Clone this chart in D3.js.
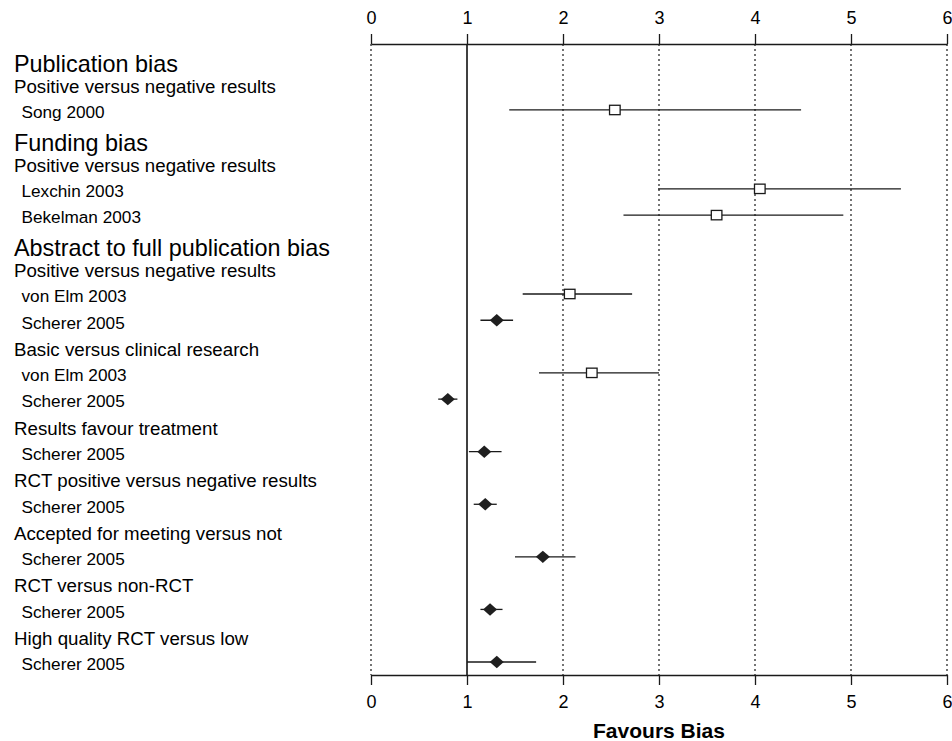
<!DOCTYPE html>
<html>
<head>
<meta charset="utf-8">
<script src="https://cdn.jsdelivr.net/npm/d3@7"></script>
<style>
  html, body { margin: 0; padding: 0; background: #fff; }
  svg { display: block; font-family: "Liberation Sans", Arial, Helvetica, sans-serif; }
</style>
</head>
<body>
<svg id="chart" width="952" height="741"></svg>
<script>
// ---- data ----
const rowLabels = [
  "Publication bias", "Positive versus negative results", "Song 2000",
  "Funding bias", "Positive versus negative results", "Lexchin 2003", "Bekelman 2003",
  "Abstract to full publication bias", "Positive versus negative results", "von Elm 2003", "Scherer 2005",
  "Basic versus clinical research", "von Elm 2003", "Scherer 2005",
  "Results favour treatment", "Scherer 2005",
  "RCT positive versus negative results", "Scherer 2005",
  "Accepted for meeting versus not", "Scherer 2005",
  "RCT versus non-RCT", "Scherer 2005",
  "High quality RCT versus low", "Scherer 2005"
];
const rowLevels = [0,1,2, 0,1,2,2, 0,1,2,2, 1,2,2, 1,2, 1,2, 1,2, 1,2, 1,2];
const estimates = [null,null,2.54, null,null,4.05,3.60, null,null,2.07,1.31, null,2.30,0.80, null,1.18, null,1.19, null,1.79, null,1.24, null,1.31];
const lowerCI   = [null,null,1.44, null,null,2.99,2.63, null,null,1.58,1.14, null,1.75,0.70, null,1.02, null,1.07, null,1.50, null,1.14, null,1.00];
const upperCI   = [null,null,4.48, null,null,5.52,4.92, null,null,2.72,1.48, null,3.00,0.90, null,1.36, null,1.31, null,2.13, null,1.37, null,1.72];
const markerTypes = [null,null,"square", null,null,"square","square", null,null,"square","diamond", null,"square","diamond", null,"diamond", null,"diamond", null,"diamond", null,"diamond", null,"diamond"];
const xTicks = [0, 1, 2, 3, 4, 5, 6];
const xTitle = "Favours Bias";
const refValue = 1;

// ---- layout ----
const svg = d3.select("#chart");
const axisTopY = 44, axisBottomY = 675;
const x = d3.scaleLinear().domain([0, 6]).range([371, 947]);
const y = d3.scalePoint().domain(d3.range(rowLabels.length)).range([57.4, 662]);
const ink = "#1a1a1a";

// gridlines (dotted)
svg.append("g").selectAll("line")
  .data(xTicks.filter(t => t !== refValue))
  .join("line")
  .attr("x1", d => x(d)).attr("x2", d => x(d))
  .attr("y1", axisTopY).attr("y2", axisBottomY)
  .attr("stroke", ink).attr("stroke-width", 1.2)
  .attr("stroke-dasharray", "2,3");

// reference line at 1
svg.append("line")
  .attr("x1", x(refValue)).attr("x2", x(refValue))
  .attr("y1", axisTopY).attr("y2", axisBottomY)
  .attr("stroke", "#000").attr("stroke-width", 1.5);

// axes
function styleAxis(g) {
  g.selectAll("path.domain").attr("stroke", ink).attr("stroke-width", 1.3);
  g.selectAll(".tick line").attr("stroke", ink).attr("stroke-width", 1.3);
  g.selectAll(".tick text").attr("fill", "#000")
    .style("font-size", "18px")
    .style("font-family", "'Liberation Sans', Arial, sans-serif");
}
svg.append("g").attr("transform", `translate(0,${axisTopY})`)
  .call(d3.axisTop(x).tickValues(xTicks).tickFormat(d3.format("d")).tickSize(10).tickSizeOuter(0).tickPadding(10))
  .call(styleAxis);
svg.append("g").attr("transform", `translate(0,${axisBottomY})`)
  .call(d3.axisBottom(x).tickValues(xTicks).tickFormat(d3.format("d")).tickSize(10).tickSizeOuter(0).tickPadding(10))
  .call(styleAxis);

svg.append("text")
  .attr("x", x(3)).attr("y", 738)
  .attr("text-anchor", "middle")
  .style("font-size", "21px").style("font-weight", "bold")
  .attr("fill", "#000")
  .text(xTitle);

// row labels
const labelStyle = [
  { size: 23.4, x: 14, dy: 14.3 },
  { size: 18.7, x: 14, dy: 9.2 },
  { size: 17.2, x: 21.5, dy: 8.3 }
];
svg.append("g").selectAll("text")
  .data(rowLabels.map((t, i) => ({ t, i, lv: rowLevels[i] })))
  .join("text")
  .attr("x", d => labelStyle[d.lv].x)
  .attr("y", d => y(d.i) + labelStyle[d.lv].dy)
  .style("font-size", d => labelStyle[d.lv].size + "px")
  .attr("fill", "#000")
  .text(d => d.t);

// study rows
const studies = d3.range(rowLabels.length)
  .filter(i => estimates[i] !== null)
  .map(i => ({ i, est: estimates[i], lo: lowerCI[i], hi: upperCI[i], m: markerTypes[i] }));

const g = svg.append("g");
g.selectAll("line.ci")
  .data(studies)
  .join("line")
  .attr("class", "ci")
  .attr("x1", d => x(d.lo)).attr("x2", d => x(d.hi))
  .attr("y1", d => y(d.i)).attr("y2", d => y(d.i))
  .attr("stroke", ink).attr("stroke-width", 1.3);

g.selectAll("rect.sq")
  .data(studies.filter(d => d.m === "square"))
  .join("rect")
  .attr("class", "sq")
  .attr("x", d => x(d.est) - 5.3).attr("y", d => y(d.i) - 4.7)
  .attr("width", 10.6).attr("height", 9.4)
  .attr("fill", "#fff").attr("stroke", ink).attr("stroke-width", 1.3);

g.selectAll("path.dm")
  .data(studies.filter(d => d.m === "diamond"))
  .join("path")
  .attr("class", "dm")
  .attr("transform", d => `translate(${x(d.est)},${y(d.i)})`)
  .attr("d", "M-7,0L0,-6.2L7,0L0,6.2Z")
  .attr("fill", "#1f1f1f");
</script>
</body>
</html>
